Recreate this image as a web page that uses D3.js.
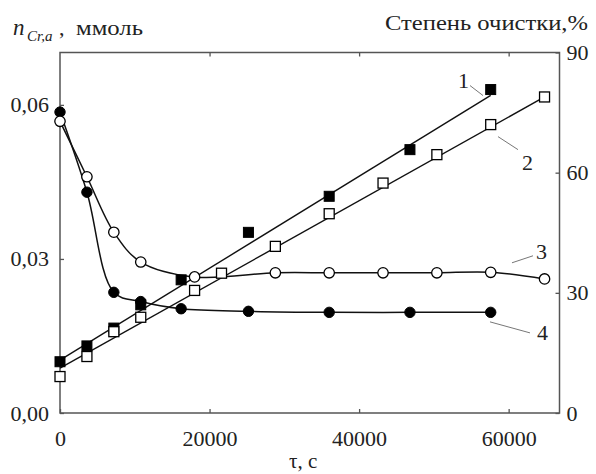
<!DOCTYPE html>
<html>
<head>
<meta charset="utf-8">
<script src="https://cdn.jsdelivr.net/npm/d3@7"></script>
<style>
  html, body { margin: 0; padding: 0; background: #fff; }
  svg text { font-family: "Liberation Serif", "DejaVu Serif", "Noto Serif", "Times New Roman", Times, serif; fill: #222; }
</style>
</head>
<body>
<script>
// ---- data ----
// Series 1: filled squares, degree of purification (%), right axis
const times1 = [0, 3600, 7200, 10800, 16200, 25200, 36000, 46800, 57600];
const degree1 = [12.8, 16.75, 21.2, 27.0, 33.25, 45.1, 54.1, 65.75, 80.75];
const fit1T = [0, 57600];
const fit1V = [13.2, 79.3];
// Series 2: open squares, degree of purification (%), right axis
const times2 = [0, 3600, 7200, 10800, 18000, 21600, 28800, 36000, 43200, 50400, 57600, 64800];
const degree2 = [9.1, 14.1, 20.3, 23.9, 30.6, 34.9, 41.6, 49.75, 57.4, 64.5, 72.0, 78.9];
const fit2T = [0, 64800];
const fit2V = [11.2, 78.9];
// Series 3: open circles, n(Cr,a), mmol, left axis
const times3 = [0, 3600, 7200, 10800, 18000, 28800, 36000, 43200, 50400, 57600, 64800];
const amount3 = [0.0568, 0.0460, 0.0352, 0.0294, 0.0265, 0.0273, 0.0273, 0.0273, 0.0273, 0.0274, 0.0261];
// Series 4: filled circles, n(Cr,a), mmol, left axis
const times4 = [0, 3600, 7200, 10800, 16200, 25200, 36000, 46800, 57600];
const amount4 = [0.0586, 0.0430, 0.0235, 0.0217, 0.0203, 0.0198, 0.0196, 0.0196, 0.0196];

// Axis ticks
const xTicks = [0, 20000, 40000, 60000];
const leftTicks = [0, 0.03, 0.06];
const rightTicks = [0, 30, 60, 90];

// Curve labels (positions in data units: τ, right-axis %)
const curveLabels = ["1", "2", "3", "4"];
const labelT = [53960, 62520, 64390, 64525];
const labelV = [81.25, 60.75, 38.5, 18.25];
const leaderT1 = [54830, 58575, 60447, 57504];
const leaderV1 = [81.75, 69.0, 37.5, 22.75];
const leaderT2 = [56570, 61250, 63255, 62853];
const leaderV2 = [79.25, 65.75, 39.25, 20.0];

// ---- layout ----
const W = 596, H = 474;
const L = 60, R = 559.5, T = 52.5, B = 413;
const FONT = '"Liberation Serif", "DejaVu Serif", "Noto Serif", "Times New Roman", Times, serif';

const x = d3.scaleLinear().domain([0, 66800]).range([L, R]);
const yL = d3.scaleLinear().domain([0, 0.0702]).range([B, T]);
const yR = d3.scaleLinear().domain([0, 90]).range([B, T]);

const svg = d3.select("body").append("svg").attr("width", W).attr("height", H)
  .attr("font-family", FONT);

// frame
svg.append("rect").attr("x", L).attr("y", T).attr("width", R - L).attr("height", B - T)
  .attr("fill", "none").attr("stroke", "#555").attr("stroke-width", 1.5);

const fmtL = d => d3.format(".2f")(d).replace(".", ",");

function styleAxis(g) {
  g.attr("font-family", FONT);
  g.select(".domain").remove();
  g.selectAll(".tick line").attr("stroke", "#555").attr("stroke-width", 1.3);
  g.selectAll(".tick text").style("font-family", FONT)
    .style("font-size", "22px").attr("fill", "#222");
}

svg.append("g").attr("transform", `translate(0,${B})`)
  .call(d3.axisBottom(x).tickValues(xTicks).tickFormat(d3.format("d")).tickSize(-4).tickPadding(17))
  .call(styleAxis);
svg.append("g").attr("transform", `translate(0,${T})`)
  .call(d3.axisTop(x).tickValues(xTicks.slice(1)).tickFormat("").tickSize(-4))
  .call(styleAxis);
svg.append("g").attr("transform", `translate(${L},0)`)
  .call(d3.axisLeft(yL).tickValues(leftTicks).tickFormat(fmtL).tickSize(-4).tickPadding(11))
  .call(styleAxis);
svg.append("g").attr("transform", `translate(${R},0)`)
  .call(d3.axisRight(yR).tickValues(rightTicks).tickFormat(d3.format("d")).tickSize(-4).tickPadding(7))
  .call(styleAxis);

// ---- lines ----
const zip = (a, b) => a.map((v, i) => [v, b[i]]);
const lineR = d3.line().x(d => x(d[0])).y(d => yR(d[1]));
const curveL = d3.line().x(d => x(d[0])).y(d => yL(d[1])).curve(d3.curveCatmullRom.alpha(0.5));

svg.append("path").attr("d", lineR(zip(fit1T, fit1V)))
  .attr("fill", "none").attr("stroke", "#111").attr("stroke-width", 1.4);
svg.append("path").attr("d", lineR(zip(fit2T, fit2V)))
  .attr("fill", "none").attr("stroke", "#111").attr("stroke-width", 1.4);
svg.append("path").attr("d", curveL(zip(times3, amount3)))
  .attr("fill", "none").attr("stroke", "#111").attr("stroke-width", 1.5);
svg.append("path").attr("d", curveL(zip(times4, amount4)))
  .attr("fill", "none").attr("stroke", "#111").attr("stroke-width", 1.5);

// ---- markers ----
const S = 10, RAD = 5.2;
svg.append("g").selectAll("rect").data(zip(times1, degree1)).join("rect")
  .attr("x", d => x(d[0]) - S / 2).attr("y", d => yR(d[1]) - S / 2)
  .attr("width", S).attr("height", S).attr("fill", "#000").attr("stroke", "#000").attr("stroke-width", 1);
svg.append("g").selectAll("rect").data(zip(times2, degree2)).join("rect")
  .attr("x", d => x(d[0]) - S / 2).attr("y", d => yR(d[1]) - S / 2)
  .attr("width", S).attr("height", S).attr("fill", "#fff").attr("stroke", "#000").attr("stroke-width", 1.3);
svg.append("g").selectAll("circle").data(zip(times4, amount4)).join("circle")
  .attr("cx", d => x(d[0])).attr("cy", d => yL(d[1])).attr("r", RAD)
  .attr("fill", "#000").attr("stroke", "#000").attr("stroke-width", 1);
svg.append("g").selectAll("circle").data(zip(times3, amount3)).join("circle")
  .attr("cx", d => x(d[0])).attr("cy", d => yL(d[1])).attr("r", RAD)
  .attr("fill", "#fff").attr("stroke", "#000").attr("stroke-width", 1.3);

// ---- curve labels ----
curveLabels.forEach((lab, i) => {
  svg.append("line")
    .attr("x1", x(leaderT1[i])).attr("y1", yR(leaderV1[i]))
    .attr("x2", x(leaderT2[i])).attr("y2", yR(leaderV2[i]))
    .attr("stroke", "#777").attr("stroke-width", 1);
  svg.append("text").attr("x", x(labelT[i])).attr("y", yR(labelV[i]))
    .attr("text-anchor", "middle").style("font-size", "22px").text(lab);
});

// ---- axis titles ----
svg.append("text").attr("x", 13).attr("y", 35).style("font-size", "23px")
  .style("font-style", "italic").text("n");
svg.append("text").attr("x", 27).attr("y", 41).style("font-size", "15px")
  .style("font-style", "italic").text("Cr,a");
svg.append("text").attr("x", 59).attr("y", 35).style("font-size", "22px").text(",");
svg.append("text").attr("x", 76).attr("y", 35).style("font-size", "22px")
  .attr("textLength", 67).attr("lengthAdjust", "spacingAndGlyphs").text("ммоль");

svg.append("text").attr("x", 385).attr("y", 30).style("font-size", "22px")
  .attr("textLength", 203).attr("lengthAdjust", "spacingAndGlyphs").text("Степень очистки,%");

svg.append("text").attr("x", 289).attr("y", 468).style("font-size", "21px").text("τ, с");
</script>
</body>
</html>
